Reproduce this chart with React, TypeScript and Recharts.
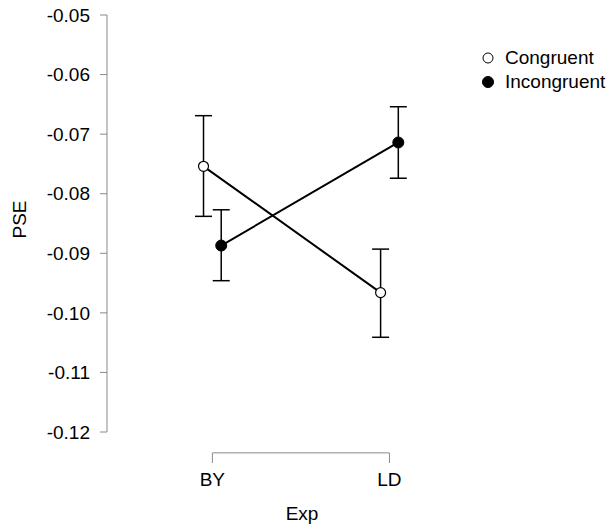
import React from 'react';
import { ComposedChart, Line, XAxis, YAxis, ErrorBar, ReferenceLine } from 'recharts';

const categories = ['BY', 'LD'];
const yTicks = [-0.12, -0.11, -0.1, -0.09, -0.08, -0.07, -0.06, -0.05];

const congruentMean = [-0.0754, -0.0966];
const congruentLower = [-0.0838, -0.1041];
const congruentUpper = [-0.0669, -0.0893];

const incongruentMean = [-0.0887, -0.0714];
const incongruentLower = [-0.0946, -0.0774];
const incongruentUpper = [-0.0827, -0.0654];

const FONT = '"Liberation Sans", Arial, sans-serif';
const FS = 19;
const AXIS_GRAY = '#8a8a8a';
const DODGE = 0.05;

function buildSeries(mean: number[], lower: number[], upper: number[], shift: number) {
  return categories.map((c, i) => ({
    x: i + 1 + shift,
    cat: c,
    y: mean[i],
    err: [mean[i] - lower[i], upper[i] - mean[i]],
  }));
}

const congruentData = buildSeries(congruentMean, congruentLower, congruentUpper, -DODGE);
const incongruentData = buildSeries(incongruentMean, incongruentLower, incongruentUpper, DODGE);

const yMin = yTicks[0];
const yMax = yTicks[yTicks.length - 1];
const bracketY = yMin - 0.0035;

const OpenDot = (props: any) => (
  <circle cx={props.cx} cy={props.cy} r={5} fill="#fff" stroke="#000" strokeWidth={1.2} />
);
const FilledDot = (props: any) => (
  <circle cx={props.cx} cy={props.cy} r={5.5} fill="#000" stroke="#000" strokeWidth={1} />
);

const XTick = (props: any) => {
  const { x, y, payload } = props;
  return (
    <g>
      <line x1={x} x2={x} y1={y + 21} y2={y + 31} stroke={AXIS_GRAY} strokeWidth={1} />
      <text x={x} y={y + 47} textAnchor="middle" dominantBaseline="central" fontSize={FS} fill="#000" fontFamily={FONT}>
        {categories[Math.round(payload.value) - 1]}
      </text>
    </g>
  );
};

const PseLabel = (props: any) => {
  const vb = props.viewBox || { y: 0, height: 0 };
  const cy = vb.y + vb.height / 2 - 4;
  return (
    <text x={19} y={cy} transform={`rotate(-90, 19, ${cy})`} textAnchor="middle" dominantBaseline="central" fontSize={FS} fill="#000" fontFamily={FONT}>
      PSE
    </text>
  );
};

const ExpLabel = (props: any) => {
  const vb = props.viewBox || { x: 0, y: 0, width: 0 };
  return (
    <text x={302} y={vb.y + 81} textAnchor="middle" dominantBaseline="central" fontSize={FS} fill="#000" fontFamily={FONT}>
      Exp
    </text>
  );
};

const legendItems = [
  { name: 'Congruent', filled: false },
  { name: 'Incongruent', filled: true },
];

const LegendBox = () => (
  <div style={{ position: 'absolute', top: 46, left: 481, fontFamily: FONT, fontSize: FS, color: '#000' }}>
    {legendItems.map((it) => (
      <div key={it.name} style={{ display: 'flex', alignItems: 'center', height: 24 }}>
        <svg width={14} height={14} style={{ marginRight: 10 }}>
          <circle cx={7} cy={7} r={it.filled ? 5.5 : 5} fill={it.filled ? '#000' : '#fff'} stroke="#000" strokeWidth={1} />
        </svg>
        <span>{it.name}</span>
      </div>
    ))}
  </div>
);

export default function App() {
  return (
    <div style={{ position: 'relative', width: 608, height: 529, background: '#fff' }}>
      <style>{`body{margin:0}`}</style>
      <ComposedChart width={608} height={529} margin={{ top: 15, right: 130, bottom: 0, left: 0 }}>
        <XAxis
          type="number"
          dataKey="x"
          domain={[0.405, 2.5]}
          ticks={[1, 2]}
          axisLine={false}
          tickLine={false}
          tickSize={0}
          tickMargin={0}
          height={97}
          tick={<XTick />}
          allowDataOverflow
          label={<ExpLabel />}
        />
        <YAxis
          type="number"
          domain={[yMin, yMax]}
          ticks={yTicks}
          width={107}
          tickSize={7}
          tickMargin={10}
          tickFormatter={(v: number) => v.toFixed(2)}
          stroke={AXIS_GRAY}
          tick={{ fill: '#000', fontSize: FS, fontFamily: FONT }}
          allowDataOverflow
          label={<PseLabel />}
        />
        <ReferenceLine
          segment={[{ x: 1, y: bracketY }, { x: 2, y: bracketY }]}
          ifOverflow="visible"
          stroke={AXIS_GRAY}
          strokeWidth={1}
        />
        <Line
          data={congruentData}
          dataKey="y"
          name="Congruent"
          stroke="#000"
          strokeWidth={2}
          dot={<OpenDot />}
          activeDot={false}
          isAnimationActive={false}
        >
          <ErrorBar dataKey="err" width={8.5} stroke="#000" strokeWidth={1.5} direction="y" isAnimationActive={false} />
        </Line>
        <Line
          data={incongruentData}
          dataKey="y"
          name="Incongruent"
          stroke="#000"
          strokeWidth={2}
          dot={<FilledDot />}
          activeDot={false}
          isAnimationActive={false}
        >
          <ErrorBar dataKey="err" width={8.5} stroke="#000" strokeWidth={1.5} direction="y" isAnimationActive={false} />
        </Line>
      </ComposedChart>
      <LegendBox />
    </div>
  );
}
